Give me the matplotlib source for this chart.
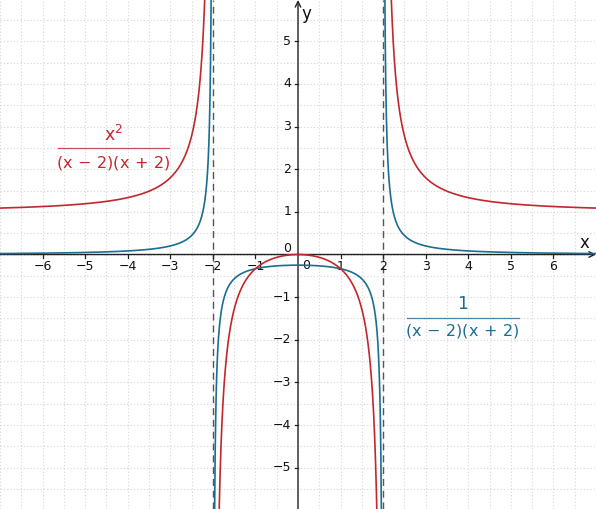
import numpy as np
import matplotlib
matplotlib.use("Agg")
import matplotlib.pyplot as plt

# ---- data ----
x_ticks = [-6, -5, -4, -3, -2, -1, 1, 2, 3, 4, 5, 6]
y_ticks = [-5, -4, -3, -2, -1, 1, 2, 3, 4, 5]
asymptotes = [-2, 2]
x_range = [-7, 7]
y_range = [-5.97, 5.97]
red_num = r"$x^2$"
blue_num = "1"
denominator = r"$(x\,-\,2)(x\,+\,2)$"
# (center x, numerator y, bar y, denominator y, half width) in data units
red_label_geom = (-4.33, 2.80, 2.49, 2.15, 1.31)
blue_label_geom = (3.87, -1.17, -1.48, -1.80, 1.31)

RED = "#c1272d"
BLUE = "#1b6e91"

def f_red(x):
    return x**2 / ((x - 2) * (x + 2))

def f_blue(x):
    return 1 / ((x - 2) * (x + 2))

plt.rcParams["mathtext.default"] = "regular"
plt.rcParams["font.family"] = ["DejaVu Sans"]

fig = plt.figure(figsize=(5.96, 5.09), dpi=100)
ax = fig.add_axes([0, 0, 1, 1])
ax.set_xlim(*x_range)
ax.set_ylim(*y_range)
for s in ax.spines.values():
    s.set_visible(False)
ax.set_xticks([])
ax.set_yticks([])

# grid at half units
for gx in np.arange(-7, 7.01, 0.5):
    ax.axvline(gx, color="#d6d6d6", lw=0.8, ls=(0, (1, 2)), zorder=0)
for gy in np.arange(-6, 6.01, 0.5):
    ax.axhline(gy, color="#d6d6d6", lw=0.8, ls=(0, (1, 2)), zorder=0)

# axes with arrows
ax.annotate("", xy=(7.0, 0), xytext=(-7, 0),
            arrowprops=dict(arrowstyle="->", color="#222222", lw=1.0, shrinkA=0, shrinkB=0), zorder=3)
ax.annotate("", xy=(0, 5.97), xytext=(0, -5.97),
            arrowprops=dict(arrowstyle="->", color="#222222", lw=1.0, shrinkA=0, shrinkB=0), zorder=3)
ax.text(6.72, 0.07, "x", fontsize=12, ha="center", va="bottom", color="#111111")
ax.text(0.08, 5.65, "y", fontsize=12, ha="left", va="center", color="#111111")

# ticks and labels
tk = 0.08
for t in x_ticks:
    ax.plot([t, t], [0, -tk], color="#222222", lw=0.9, zorder=3)
    ax.text(t, -0.28, "\u2212%d" % abs(t) if t < 0 else str(t), fontsize=9,
            ha="center", va="center", color="#111111")
for t in y_ticks:
    ax.plot([0, -tk], [t, t], color="#222222", lw=0.9, zorder=3)
    ax.text(-0.16, t, "\u2212%d" % abs(t) if t < 0 else str(t), fontsize=9,
            ha="right", va="center", color="#111111")
ax.text(-0.16, 0.14, "0", fontsize=9, ha="right", va="center", color="#111111")
ax.text(0.2, -0.26, "0", fontsize=9, ha="center", va="center", color="#111111")

# asymptotes
for a in asymptotes:
    ax.axvline(a, color="#555555", lw=1.0, ls=(0, (5, 3.5)), zorder=1)

# curves
eps = 1e-4
segments = [(x_range[0], asymptotes[0] - eps),
            (asymptotes[0] + eps, asymptotes[1] - eps),
            (asymptotes[1] + eps, x_range[1])]
for lo, hi in segments:
    xs = np.linspace(lo, hi, 4000)
    ax.plot(xs, f_blue(xs), color=BLUE, lw=1.2, zorder=4)
    ax.plot(xs, f_red(xs), color=RED, lw=1.2, zorder=4)

def fraction(num, geom, color):
    cx, ny, by, dy, hw = geom
    ax.text(cx, ny, num, fontsize=12.5, color=color, ha="center", va="center")
    ax.plot([cx - hw, cx + hw], [by, by], color=color, lw=0.9, alpha=0.8)
    ax.text(cx, dy, denominator, fontsize=11.5, color=color, ha="center", va="center")

fraction(red_num, red_label_geom, RED)
fraction(blue_num, blue_label_geom, BLUE)

fig.savefig("out.png", dpi=100)
